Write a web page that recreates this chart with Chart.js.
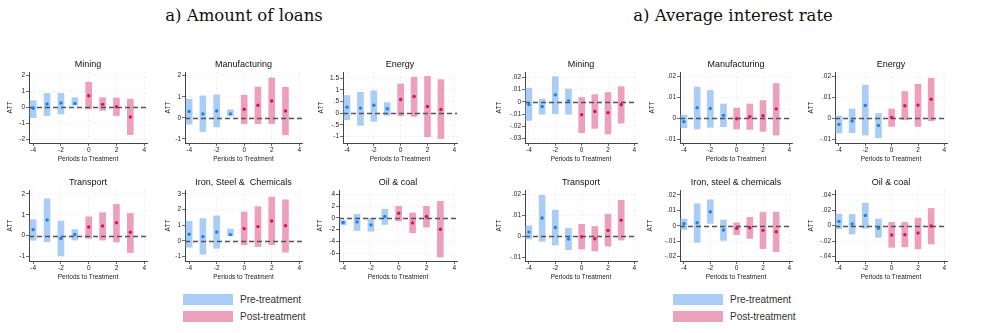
<!DOCTYPE html>
<html>
<head>
<meta charset="utf-8">
<script src="https://cdn.jsdelivr.net/npm/chart.js@4.4.1/dist/chart.umd.min.js"></script>
<style>
  body { margin: 0; width: 987px; height: 333px; background: #fff; position: relative; overflow: hidden;
         font-family: "Liberation Sans", Arial, sans-serif; }
  .head { position: absolute; top: 6px; font-family: "DejaVu Serif", serif; font-size: 16.5px; color: #111;
          transform: translateX(-50%); white-space: nowrap; }
  .panel { position: absolute; }
  .sw { position: absolute; width: 50px; height: 11px; }
  .lab { position: absolute; font-size: 10px; color: #333; line-height: 11px; white-space: nowrap; }
</style>
</head>
<body>
<div class="head" style="left:244px">a) Amount of loans</div>
<div class="head" style="left:733px">a) Average interest rate</div>
<div id="charts"></div>
<div id="legends"></div>
<script>
// --- DATA ---
const periods = [-4, -3, -2, -1, 0, 1, 2, 3];
const periodTicks = [-4, -2, 0, 2, 4];

// Amount of loans
const loanMiningAtt = [-0.06, 0.21, 0.27, 0.25, 0.73, 0.19, 0.04, -0.61];
const loanMiningLo  = [-0.65, -0.52, -0.42, 0.13, -0.10, -0.19, -0.52, -1.72];
const loanMiningHi  = [0.42, 0.88, 0.88, 0.61, 1.59, 0.61, 0.59, 0.52];
const loanMiningTicks = [-2, -1, 0, 1, 2];

const loanManufAtt = [0.30, 0.19, 0.33, 0.19, 0.41, 0.60, 0.80, 0.33];
const loanManufLo  = [-0.30, -0.65, -0.43, 0.09, -0.28, -0.28, -0.27, -0.80];
const loanManufHi  = [0.88, 1.04, 1.09, 0.38, 1.07, 1.46, 1.89, 1.45];
const loanManufTicks = [-1, 0, 1, 2];

const loanEnergyAtt = [0.26, 0.22, 0.34, 0.19, 0.59, 0.72, 0.29, 0.16];
const loanEnergyLo  = [-0.28, -0.52, -0.35, -0.09, -0.11, -0.14, -1.01, -1.09];
const loanEnergyHi  = [0.76, 0.90, 0.96, 0.45, 1.26, 1.55, 1.58, 1.44];
const loanEnergyTicks = [-1, -0.5, 0, 0.5, 1, 1.5];

const loanTransAtt = [0.29, 0.75, -0.13, 0.06, 0.41, 0.46, 0.62, 0.16];
const loanTransLo  = [-0.22, -0.29, -0.97, -0.21, -0.13, -0.21, -0.30, -0.81];
const loanTransHi  = [0.76, 1.76, 0.70, 0.29, 0.90, 1.10, 1.49, 1.06];
const loanTransTicks = [-1, 0, 1, 2];

const loanIronAtt = [0.42, 0.27, 0.57, 0.40, 0.78, 0.91, 1.27, 0.97];
const loanIronLo  = [-0.40, -0.85, -0.47, 0.32, -0.25, -0.36, -0.25, -0.72];
const loanIronHi  = [1.25, 1.42, 1.59, 0.76, 1.84, 2.18, 2.79, 2.62];
const loanIronTicks = [-1, 0, 1, 2, 3];

const loanOilAtt = [-0.79, -0.68, -1.19, 0.23, 0.79, -0.85, 0.23, -1.93];
const loanOilLo  = [-1.19, -2.15, -2.27, -1.13, -0.51, -2.55, -1.59, -6.69];
const loanOilHi  = [-0.45, 0.62, -0.11, 1.47, 1.98, 0.85, 1.98, 2.83];
const loanOilTicks = [-6, -4, -2, 0, 2, 4];

// Average interest rate
const rateMiningAtt = [-0.0022, -0.0038, 0.0057, 0.0008, -0.0105, -0.0078, -0.0089, -0.0024];
const rateMiningLo  = [-0.0151, -0.0100, -0.0097, -0.0100, -0.0251, -0.0216, -0.0262, -0.0173];
const rateMiningHi  = [0.0111, 0.0022, 0.0205, 0.0105, 0.0035, 0.0059, 0.0076, 0.0124];
const rateMiningTicks = [-0.03, -0.02, -0.01, 0, 0.01, 0.02];

const rateManufAtt = [-0.0017, 0.0049, 0.0046, 0.0013, -0.0003, 0.0006, 0.0011, 0.0044];
const rateManufLo  = [-0.0046, -0.0052, -0.0044, -0.0041, -0.0052, -0.0054, -0.0063, -0.0081];
const rateManufHi  = [0.0014, 0.0148, 0.0132, 0.0067, 0.0048, 0.0067, 0.0084, 0.0165];
const rateManufTicks = [-0.01, 0, 0.01, 0.02];

const rateEnergyAtt = [-0.0030, -0.0014, 0.0060, -0.0035, 0.0003, 0.0059, 0.0062, 0.0090];
const rateEnergyLo  = [-0.0071, -0.0070, -0.0081, -0.0094, -0.0040, -0.0008, -0.0040, -0.0013];
const rateEnergyHi  = [0.0010, 0.0043, 0.0157, 0.0022, 0.0043, 0.0127, 0.0162, 0.0190];
const rateEnergyTicks = [-0.01, 0, 0.01, 0.02];

const rateTransAtt = [0.0019, 0.0086, 0.0041, -0.0014, -0.0003, -0.0013, 0.0027, 0.0076];
const rateTransLo  = [-0.0014, -0.0025, -0.0043, -0.0065, -0.0062, -0.0071, -0.0048, -0.0019];
const rateTransHi  = [0.0049, 0.0195, 0.0124, 0.0037, 0.0056, 0.0046, 0.0105, 0.0171];
const rateTransTicks = [-0.01, 0, 0.01, 0.02];

const rateIronAtt = [0.0013, 0.0019, 0.0090, -0.0028, -0.0017, -0.0013, -0.0030, -0.0039];
const rateIronLo  = [-0.0024, -0.0108, 0.0015, -0.0095, -0.0058, -0.0082, -0.0148, -0.0168];
const rateIronHi  = [0.0043, 0.0142, 0.0168, 0.0037, 0.0019, 0.0054, 0.0086, 0.0088];
const rateIronTicks = [-0.02, -0.01, 0, 0.01, 0.02];

const rateOilAtt = [0.0056, 0.0022, 0.0133, -0.0034, -0.0120, -0.0116, -0.0095, -0.0004];
const rateOilLo  = [-0.0039, -0.0108, -0.0034, -0.0150, -0.0280, -0.0275, -0.0301, -0.0237];
const rateOilHi  = [0.0150, 0.0146, 0.0292, 0.0086, 0.0043, 0.0043, 0.0099, 0.0223];
const rateOilTicks = [-0.04, -0.02, 0, 0.02, 0.04];

// --- STYLE ---
const PRE_BAR = '#a9cdf4', PRE_DOT = '#1e80e4';
const POST_BAR = '#eda0bb', POST_DOT = '#d4145a';
const ROWS = [{ t: 72, b: 143 }, { t: 190, b: 261 }];
const TITLE_H = 18, XAXIS_H = 21, RPAD = 5;

// panel placement: l/r = plot edges in page px, gap = distance from axis to "ATT"
const panels = [
  { title: 'Mining', att: loanMiningAtt, lo: loanMiningLo, hi: loanMiningHi, ticks: loanMiningTicks, yMin: -2.25, yMax: 2.23, row: 0, l: 29, r: 147, gap: 19 },
  { title: 'Manufacturing', att: loanManufAtt, lo: loanManufLo, hi: loanManufHi, ticks: loanManufTicks, yMin: -1.19, yMax: 2.17, row: 0, l: 185, r: 302, gap: 17 },
  { title: 'Energy', att: loanEnergyAtt, lo: loanEnergyLo, hi: loanEnergyHi, ticks: loanEnergyTicks, yMin: -1.28, yMax: 1.77, row: 0, l: 343, r: 457, gap: 22 },
  { title: 'Transport', att: loanTransAtt, lo: loanTransLo, hi: loanTransHi, ticks: loanTransTicks, yMin: -1.21, yMax: 2.18, row: 1, l: 29, r: 147, gap: 19 },
  { title: 'Iron, Steel &  Chemicals', att: loanIronAtt, lo: loanIronLo, hi: loanIronHi, ticks: loanIronTicks, yMin: -1.28, yMax: 3.24, row: 1, l: 185, r: 302, gap: 17 },
  { title: 'Oil & coal', att: loanOilAtt, lo: loanOilLo, hi: loanOilHi, ticks: loanOilTicks, yMin: -7.36, yMax: 4.77, row: 1, l: 339, r: 457, gap: 19 },
  { title: 'Mining', att: rateMiningAtt, lo: rateMiningLo, hi: rateMiningHi, ticks: rateMiningTicks, yMin: -0.0335, yMax: 0.0243, row: 0, l: 525, r: 637, gap: 26 },
  { title: 'Manufacturing', att: rateManufAtt, lo: rateManufLo, hi: rateManufHi, ticks: rateManufTicks, yMin: -0.0119, yMax: 0.022, row: 0, l: 680, r: 792, gap: 28 },
  { title: 'Energy', att: rateEnergyAtt, lo: rateEnergyLo, hi: rateEnergyHi, ticks: rateEnergyTicks, yMin: -0.0119, yMax: 0.022, row: 0, l: 835, r: 947, gap: 24 },
  { title: 'Transport', att: rateTransAtt, lo: rateTransLo, hi: rateTransHi, ticks: rateTransTicks, yMin: -0.0119, yMax: 0.022, row: 1, l: 525, r: 637, gap: 26 },
  { title: 'Iron, steel & chemicals', att: rateIronAtt, lo: rateIronLo, hi: rateIronHi, ticks: rateIronTicks, yMin: -0.0228, yMax: 0.0231, row: 1, l: 680, r: 792, gap: 30 },
  { title: 'Oil & coal', att: rateOilAtt, lo: rateOilLo, hi: rateOilHi, ticks: rateOilTicks, yMin: -0.0457, yMax: 0.0462, row: 1, l: 835, r: 947, gap: 24 }
];

Chart.defaults.font.family = '"Liberation Sans", Arial, sans-serif';
Chart.defaults.color = '#222';

// Stata-style tick labels: drop the leading zero (.5, -.01)
const fmt = v => String(+v.toFixed(4)).replace(/^(-?)0\./, '$1.');

// dashed reference line at zero, drawn over the bars but under the dots
const zeroLine = {
  id: 'zeroLine',
  afterDatasetDraw(chart, args) {
    if (args.index !== 2) return;
    const { ctx, chartArea, scales } = chart;
    const y = Math.round(scales.y.getPixelForValue(0)) + 0.5;
    ctx.save();
    ctx.strokeStyle = '#555';
    ctx.lineWidth = 1.4;
    ctx.setLineDash([5, 3]);
    ctx.beginPath();
    ctx.moveTo(chartArea.left, y);
    ctx.lineTo(chartArea.right, y);
    ctx.stroke();
    ctx.restore();
  }
};

const holder = document.getElementById('charts');

panels.forEach(p => {
  const row = ROWS[p.row];
  const left = Math.round(p.l - p.gap - 4);
  const yw = p.l - left;
  const w = p.r - p.l + yw + RPAD;
  const h = TITLE_H + row.b - row.t + XAXIS_H;

  const div = document.createElement('div');
  div.className = 'panel';
  div.style.left = left + 'px';
  div.style.top = (row.t - TITLE_H) + 'px';
  const canvas = document.createElement('canvas');
  canvas.width = w; canvas.height = h;
  canvas.style.width = w + 'px'; canvas.style.height = h + 'px';
  div.appendChild(canvas);
  holder.appendChild(div);

  const pts = (test) => periods.map((x, i) => ({ x, y: p.att[i] })).filter(d => test(d.x));
  const bars = (test) => periods.map((x, i) => ({ x, y: [p.lo[i], p.hi[i]] })).filter(d => test(d.x));
  const isPre = x => x < 0, isPost = x => x >= 0;

  new Chart(canvas, {
    type: 'bar',
    data: {
      datasets: [
        { type: 'scatter', data: pts(isPre), pointRadius: 1.7, pointBorderWidth: 0, backgroundColor: PRE_DOT },
        { type: 'scatter', data: pts(isPost), pointRadius: 1.7, pointBorderWidth: 0, backgroundColor: POST_DOT },
        { type: 'bar', data: bars(isPre), backgroundColor: PRE_BAR, barThickness: 6, grouped: false },
        { type: 'bar', data: bars(isPost), backgroundColor: POST_BAR, barThickness: 6, grouped: false }
      ]
    },
    options: {
      responsive: false,
      animation: false,
      events: [],
      layout: { padding: { left: 0, right: RPAD, top: 0, bottom: 0 } },
      plugins: {
        legend: { display: false },
        tooltip: { enabled: false },
        title: {
          display: true, text: p.title, fullSize: false, color: '#111',
          font: { size: 9, weight: 'normal' }, padding: { top: 5, bottom: 2.2 }
        }
      },
      scales: {
        x: {
          type: 'linear', min: -4.3, max: 4.2, offset: false, bounds: 'data',
          afterBuildTicks: s => { s.ticks = periodTicks.map(v => ({ value: v })); },
          afterFit: s => { s.height = XAXIS_H; },
          ticks: { font: { size: 6.5 }, padding: 0.5, maxRotation: 0, callback: v => fmt(v) },
          grid: { offset: false, color: '#ececec', lineWidth: 0.8, tickColor: '#444', tickLength: 3 },
          border: { color: '#444', width: 1, dash: [2, 2] },
          title: { display: true, text: 'Periods to Treatment', font: { size: 6.5 }, padding: { top: 0, bottom: 1 }, color: '#222' }
        },
        y: {
          type: 'linear', min: p.yMin, max: p.yMax, bounds: 'data', beginAtZero: false,
          afterBuildTicks: s => { s.ticks = p.ticks.map(v => ({ value: v })); },
          afterFit: s => { s.width = yw; },
          ticks: { font: { size: 6.5 }, padding: 1, callback: v => fmt(v) },
          grid: { color: '#ececec', lineWidth: 0.8, tickColor: '#444', tickLength: 3 },
          border: { color: '#444', width: 1, dash: [2, 2] },
          title: { display: true, text: 'ATT', font: { size: 6.5 }, padding: 0, color: '#222' }
        }
      }
    },
    plugins: [zeroLine]
  });
});

// legends below each group
const legends = document.getElementById('legends');
[183, 673].forEach(x => {
  [['Pre-treatment', PRE_BAR, 294], ['Post-treatment', POST_BAR, 311]].forEach(([text, color, y]) => {
    const sw = document.createElement('div');
    sw.className = 'sw';
    sw.style.left = x + 'px'; sw.style.top = y + 'px'; sw.style.background = color;
    const lab = document.createElement('div');
    lab.className = 'lab';
    lab.style.left = (x + 57) + 'px'; lab.style.top = y + 'px';
    lab.textContent = text;
    legends.appendChild(sw); legends.appendChild(lab);
  });
});
</script>
</body>
</html>
